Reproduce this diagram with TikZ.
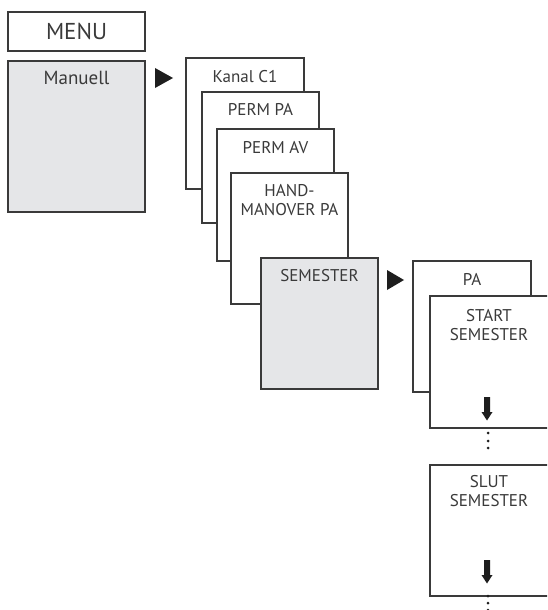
\documentclass[tikz,border=0pt]{standalone}
\usepackage{fontspec}
\setmainfont{PT Sans}
\usetikzlibrary{positioning}

\definecolor{boxline}{HTML}{3A3A3A}
\definecolor{boxgray}{HTML}{E5E6E8}
\definecolor{mark}{HTML}{1E1E1E}

\tikzset{
  menubox/.style={draw=boxline, line width=1.2pt, fill=white, anchor=north west,
    minimum width=118pt, minimum height=131pt, inner sep=0pt, outer sep=0pt},
  graybox/.style={menubox, fill=boxgray},
  boxtext/.style={anchor=north, inner sep=0pt, align=center, text=boxline,
    font=\fontsize{17}{19}\selectfont},
  pointer/.style={fill=mark},
  dot/.style={fill=mark}
}

\begin{document}
\begin{tikzpicture}[x=1pt, y=-1pt]

\useasboundingbox (0,0) rectangle (547,610);
\clip (0,0) rectangle (547,610);

% main menu
\node[menubox, minimum width=137pt, minimum height=39pt] (menu) at (8,12) {};
\node[boxtext, font=\fontsize{23}{26}\selectfont, anchor=center] at (menu.center) {MENU};

\node[graybox, minimum width=137pt, minimum height=151pt] (manuell) at (8,61) {};
\node[boxtext, font=\fontsize{19}{22}\selectfont, below=10pt of manuell.north] {Manuell};

\fill[pointer] (155,68) -- (173,78) -- (155,88) -- cycle;

% stack of manual modes
\node[menubox] (kanal) at (186,58) {};
\node[boxtext, below=12pt of kanal.north] {Kanal C1};

\node[menubox, minimum width=117pt] (permpa) at (202,92) {};
\node[boxtext, below=11pt of permpa.north] {PERM PA};

\node[menubox, minimum width=117pt, minimum height=132pt] (permav) at (217,129) {};
\node[boxtext, below=12pt of permav.north] {PERM AV};

\node[menubox, minimum width=117pt] (hand) at (231,173) {};
\node[boxtext, below=11pt of hand.north] {HAND-\\MANOVER PA};

\node[graybox, minimum width=117pt] (semester) at (261,258) {};
\node[boxtext, below=11pt of semester.north] {SEMESTER};

\fill[pointer] (387,270) -- (404,280) -- (387,290) -- cycle;

% semester settings
\node[menubox] (pa) at (413,261) {};
\node[boxtext, below=12pt of pa.north] {PA};

\node[menubox, minimum width=120pt, minimum height=132pt] (start) at (430,296) {};
\node[boxtext, below=13pt of start.north, xshift=-1pt] {START\\SEMESTER};

\node[menubox, minimum width=120pt] (slut) at (430,465) {};
\node[boxtext, below=10pt of slut.north, xshift=-1pt] {SLUT\\SEMESTER};

% down arrows
\fill[pointer] (484,397) -- (490,397) -- (490,412) -- (492.5,412) -- (487,420.5) -- (481.5,412) -- (484,412) -- cycle;
\fill[pointer] (484,560) -- (490,560) -- (490,575) -- (492.5,575) -- (487,583.5) -- (481.5,575) -- (484,575) -- cycle;

% dots
\foreach \y in {433, 441, 448}
  \fill[dot] (488,\y) circle(1.5pt);
\foreach \y in {596, 603, 610}
  \fill[dot] (488,\y) circle(1.5pt);

\end{tikzpicture}
\end{document}
